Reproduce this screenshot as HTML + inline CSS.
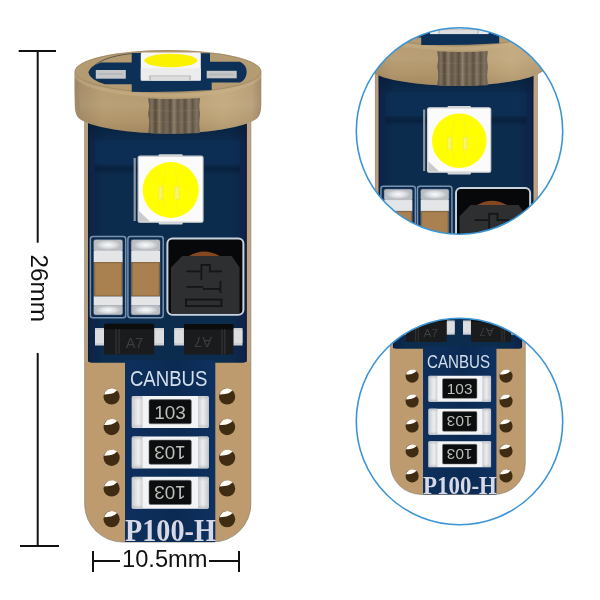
<!DOCTYPE html>
<html><head><meta charset="utf-8">
<style>
html,body{margin:0;padding:0;background:#fff;width:600px;height:600px;overflow:hidden}
svg{display:block;will-change:transform}
text{font-family:"Liberation Sans",sans-serif}
</style></head>
<body>
<svg width="600" height="600" viewBox="0 0 600 600">
<defs>
  <linearGradient id="ringG" x1="0" x2="1" y1="0" y2="0">
    <stop offset="0" stop-color="#a08866"/>
    <stop offset="0.15" stop-color="#b69a6e"/>
    <stop offset="0.5" stop-color="#b2976c"/>
    <stop offset="0.8" stop-color="#c2a87c"/>
    <stop offset="0.95" stop-color="#b89e76"/>
    <stop offset="1" stop-color="#a08868"/>
  </linearGradient>
  <linearGradient id="texG" x1="0" x2="1" y1="0" y2="0">
    <stop offset="0.000" stop-color="#5f5444"/>
    <stop offset="0.071" stop-color="#7f715c"/>
    <stop offset="0.143" stop-color="#554a3d"/>
    <stop offset="0.214" stop-color="#8a7b64"/>
    <stop offset="0.286" stop-color="#615546"/>
    <stop offset="0.357" stop-color="#786a57"/>
    <stop offset="0.429" stop-color="#5a4e42"/>
    <stop offset="0.500" stop-color="#8f806b"/>
    <stop offset="0.571" stop-color="#635647"/>
    <stop offset="0.643" stop-color="#7d6f5a"/>
    <stop offset="0.714" stop-color="#5c5043"/>
    <stop offset="0.786" stop-color="#887965"/>
    <stop offset="0.857" stop-color="#615546"/>
    <stop offset="0.929" stop-color="#807260"/>
    <stop offset="1.000" stop-color="#6a5d50"/>
  </linearGradient>
  <radialGradient id="holeG" cx="0.5" cy="0.55" r="0.55">
    <stop offset="0" stop-color="#5a3f1c"/>
    <stop offset="1" stop-color="#3a2710"/>
  </radialGradient>
  <linearGradient id="capV" x1="0" x2="0" y1="0" y2="1">
    <stop offset="0" stop-color="#9a9ea2" stop-opacity="0.5"/>
    <stop offset="0.2" stop-color="#ffffff" stop-opacity="0"/>
    <stop offset="0.8" stop-color="#ffffff" stop-opacity="0"/>
    <stop offset="1" stop-color="#9a9ea2" stop-opacity="0.5"/>
  </linearGradient>
  <linearGradient id="capEndL" x1="0" x2="1" y1="0" y2="0">
    <stop offset="0" stop-color="#c8cacc"/>
    <stop offset="0.6" stop-color="#eeeff0"/>
    <stop offset="1" stop-color="#cdd0d2"/>
  </linearGradient>
  <linearGradient id="capEndR" x1="1" x2="0" y1="0" y2="0">
    <stop offset="0" stop-color="#c4c7ca"/>
    <stop offset="0.55" stop-color="#eceef0"/>
    <stop offset="1" stop-color="#c9ccd0"/>
  </linearGradient>
  <linearGradient id="capTop" x1="0" x2="0" y1="0" y2="1">
    <stop offset="0" stop-color="#9ea3a8"/>
    <stop offset="0.5" stop-color="#e6e8ea"/>
    <stop offset="1" stop-color="#c9ccd0"/>
  </linearGradient>

  <linearGradient id="shadeG" x1="0" x2="0" y1="0" y2="1">
    <stop offset="0" stop-color="#061a33" stop-opacity="0.7"/>
    <stop offset="1" stop-color="#061a33" stop-opacity="0"/>
  </linearGradient>
  <linearGradient id="bandG" x1="0" x2="0" y1="0" y2="1">
    <stop offset="0" stop-color="#061a33" stop-opacity="0"/>
    <stop offset="0.5" stop-color="#061a33" stop-opacity="0.6"/>
    <stop offset="1" stop-color="#061a33" stop-opacity="0"/>
  </linearGradient>

  <radialGradient id="hiG" cx="0.5" cy="0.5" r="0.5">
    <stop offset="0" stop-color="#ffffff" stop-opacity="0.95"/>
    <stop offset="0.6" stop-color="#f0f2f4" stop-opacity="0.6"/>
    <stop offset="1" stop-color="#e0e2e4" stop-opacity="0"/>
  </radialGradient>

  <linearGradient id="blueH" x1="0" x2="1" y1="0" y2="0">
    <stop offset="0" stop-color="#0f234c"/>
    <stop offset="0.05" stop-color="#0b2748"/>
    <stop offset="0.1" stop-color="#0c2c4e"/>
    <stop offset="0.9" stop-color="#0c2c4e"/>
    <stop offset="0.95" stop-color="#0d2649"/>
    <stop offset="1" stop-color="#10224a"/>
  </linearGradient>
  <linearGradient id="blueCol" x1="0" x2="1" y1="0" y2="0">
    <stop offset="0" stop-color="#0e2f5c"/>
    <stop offset="0.35" stop-color="#0d2d58"/>
    <stop offset="0.55" stop-color="#0b2a52"/>
    <stop offset="1" stop-color="#0e3160"/>
  </linearGradient>

  <linearGradient id="ringV" x1="0" x2="0" y1="0" y2="1">
    <stop offset="0" stop-color="#ffffff" stop-opacity="0"/>
    <stop offset="0.55" stop-color="#ffffff" stop-opacity="0.06"/>
    <stop offset="0.8" stop-color="#5a4a30" stop-opacity="0.05"/>
    <stop offset="1" stop-color="#5a4a30" stop-opacity="0.2"/>
  </linearGradient>

  <g id="bulb">
    <!-- PCB outline / copper -->
    <path d="M84.7,110 H250.8 V504 A38,38 0 0 1 212.8,542 H122.7 A38,38 0 0 1 84.7,504 Z" fill="#be9b6e" stroke="#8e8473" stroke-width="0.8"/>
    <!-- blue upper -->
    <path d="M88,110 H246.8 V359 Q246.8,362.7 243,362.7 H91.7 Q88,362.7 88,359 Z" fill="url(#blueH)"/>
    <rect x="85.2" y="110" width="2.8" height="252" fill="#b9a081"/>
    <rect x="246.8" y="110" width="3.6" height="252" fill="#bea283"/>
    <rect x="88" y="110" width="1.3" height="252" fill="#0a1630" opacity="0.8"/>
    <rect x="245.5" y="110" width="1.3" height="252" fill="#0a1630" opacity="0.8"/>
    <!-- blue center column -->
    <rect x="125" y="360" width="90.3" height="182" fill="url(#blueCol)"/>
    <!-- subtle band -->
    <rect x="95" y="140" width="145" height="25" fill="#103560" opacity="0.35"/>
    <rect x="95" y="163" width="145" height="12" fill="url(#bandG)"/>
    <rect x="88" y="118" width="158.8" height="26" fill="url(#shadeG)"/>

    <!-- big LED -->
    <rect x="133.6" y="158" width="2.2" height="63" fill="#8d97a2"/>
    <rect x="158.7" y="154.3" width="24" height="4" rx="1" fill="#d4d6d8"/>
    <rect x="158.7" y="220.5" width="24" height="4" rx="1" fill="#d4d6d8"/>
    <rect x="138.2" y="156.2" width="64.8" height="66" rx="2" fill="#fbfbfb" stroke="#cfd1d3" stroke-width="1.2"/>
    <path d="M139,211 L150,221.5 H139 Z" fill="#c8cacc"/>
    <circle cx="170.7" cy="190" r="28" fill="#ffff00"/>
    <rect x="158.8" y="186.3" width="4" height="13" fill="#f4f290" stroke="#e6dc60" stroke-width="0.5" opacity="0.7"/>
    <path d="M166,170 Q160,190 166,210 M175,170 Q181,190 175,210" stroke="#eee060" stroke-width="0.6" fill="none" opacity="0.6"/>
    <rect x="174.8" y="186.3" width="4.5" height="13" fill="#f4f290" stroke="#e6dc60" stroke-width="0.5" opacity="0.7"/>

    <!-- small caps (left two) -->
    <g id="capA">
      <rect x="90.4" y="236.6" width="35.3" height="81.2" rx="2.5" fill="#0b2a4c" stroke="#7893b2" stroke-width="1.5"/>
      <rect x="93.2" y="239.2" width="29.8" height="76" rx="2" fill="#3d5676"/>
      <rect x="93.8" y="239.8" width="28.7" height="11.5" rx="2" fill="#b9bdc2"/>
      <ellipse cx="108.2" cy="245" rx="13" ry="5" fill="url(#hiG)"/>
      <rect x="93.8" y="250.8" width="28.7" height="11.2" fill="#e3e5e7"/>
      <rect x="94" y="262" width="28.3" height="34.5" fill="#8c6a40"/>
      <rect x="95.2" y="263.2" width="25.9" height="32.1" fill="#a98150"/>
      <rect x="93.8" y="296.5" width="28.7" height="9" fill="#e3e5e7"/>
      <rect x="93.8" y="305.3" width="28.7" height="9.5" rx="2" fill="#b9bdc2"/>
      <ellipse cx="108.2" cy="310" rx="13" ry="4.5" fill="url(#hiG)"/>
    </g>
    <use href="#capA" transform="translate(37.5,0)"/>

    <!-- inductor -->
    <rect x="167.4" y="238.4" width="76" height="76.3" rx="5" fill="#070809" stroke="#c9d3de" stroke-width="2"/>
    <path d="M182.3,256 L231.7,256 L239.5,267.5 L239.5,313.5 L171,313.5 L171,267.5 Z" fill="#2d2f31"/>
    <path d="M189,256 Q204,247 219.7,256 Z" fill="#83481f"/>
    <g fill="#141516">
      <rect x="186.3" y="270.5" width="14" height="1.8"/>
      <rect x="200.5" y="264" width="1.8" height="16"/>
      <rect x="202" y="264" width="8" height="1.8"/>
      <rect x="209" y="264" width="1.8" height="8"/>
      <rect x="209" y="270.5" width="13" height="1.8"/>
      <rect x="186.3" y="286" width="17" height="1.8"/>
      <rect x="203" y="288" width="18" height="1.8"/>
      <rect x="219.5" y="281" width="1.8" height="12"/>
      <rect x="185" y="298.7" width="37.3" height="1.8"/>
      <rect x="185" y="298.7" width="1.8" height="8.3"/>
      <rect x="220.5" y="298.7" width="1.8" height="8.3"/>
      <rect x="185" y="305.2" width="37.3" height="1.8"/>
    </g>

    <!-- diodes -->
    <g>
      <rect x="95" y="328" width="69" height="17.5" fill="#cdd0d3"/>
      <rect x="95" y="330" width="9" height="13" fill="#e2e4e6" opacity="0.7"/>
      <rect x="155" y="330" width="9" height="13" fill="#e2e4e6" opacity="0.7"/>
      <rect x="104" y="323.7" width="50.2" height="30.8" rx="2" fill="#1a1b1c"/>
      <rect x="104" y="323.7" width="50.2" height="5.5" rx="1.5" fill="#0c0c0d"/>
      <rect x="115.6" y="329" width="0.9" height="25" fill="#3c3e40"/>
      <rect x="118.6" y="329" width="0.9" height="25" fill="#3c3e40"/>
      <text x="134.5" y="348" font-size="14.5" fill="#3c3e40" text-anchor="middle">A7</text>
    </g>
    <g>
      <rect x="174.2" y="328" width="68.3" height="17.5" fill="#cdd0d3"/>
      <rect x="174.2" y="330" width="9" height="13" fill="#e2e4e6" opacity="0.7"/>
      <rect x="233.5" y="330" width="9" height="13" fill="#e2e4e6" opacity="0.7"/>
      <rect x="184" y="324" width="49.5" height="30.5" rx="2" fill="#1a1b1c"/>
      <rect x="184" y="324" width="49.5" height="5.5" rx="1.5" fill="#0c0c0d"/>
      <rect x="221.6" y="329" width="0.9" height="25" fill="#3c3e40"/>
      <rect x="224.4" y="329" width="0.9" height="25" fill="#3c3e40"/>
      <text x="203" y="348" font-size="14.5" fill="#3c3e40" text-anchor="middle" transform="rotate(180 203 342.5)">A7</text>
    </g>

    <!-- CANBUS -->
    <text x="129.9" y="386.1" font-size="21.6" fill="#d4dfeb" textLength="77.6" lengthAdjust="spacingAndGlyphs">CANBUS</text>

    <!-- resistors -->
    <g id="resA">
      <rect x="131.7" y="396" width="77" height="32" rx="1.5" fill="#f3f4f5"/>
      <rect x="132" y="396.2" width="10.6" height="31.4" rx="1" fill="url(#capEndL)"/>
      <rect x="132" y="396.2" width="10.6" height="31.4" rx="1" fill="url(#capV)"/>
      <rect x="198" y="396.2" width="10.6" height="31.4" rx="1" fill="url(#capEndR)"/>
      <rect x="198" y="396.2" width="10.6" height="31.4" rx="1" fill="url(#capV)"/>
      <rect x="149" y="399.6" width="42.3" height="24.2" rx="1.5" fill="#0c0d0e" stroke="#6a6c6e" stroke-width="0.6"/>
    </g>
    <use href="#resA" transform="translate(0,40.5)"/>
    <use href="#resA" transform="translate(0,80.7)"/>
    <g fill="#bdbeb8" font-size="19" text-anchor="middle" style="font-family:'Liberation Mono',monospace">
      <text x="170" y="418.8">103</text>
      <text x="170" y="459.3" transform="rotate(180 170 452.5)">103</text>
      <text x="170" y="499.5" transform="rotate(180 170 492.7)">103</text>
    </g>

    <!-- holes -->
    <g id="holeA">
      <circle cx="111.6" cy="396.4" r="8.1" fill="#3f2c13"/>
      <path d="M104.1,394.4 A8,8 0 0 1 117.1,390.2 Q114.5,393 111.1,393.7 Q107,394.4 104.1,394.4 Z" fill="#fffdf6"/>
    </g>
    <use href="#holeA" transform="translate(115.5,0)"/>
    <use href="#holeA" transform="translate(0,30.7)"/>
    <use href="#holeA" transform="translate(115.5,30.7)"/>
    <use href="#holeA" transform="translate(0,61.4)"/>
    <use href="#holeA" transform="translate(115.5,61.4)"/>
    <use href="#holeA" transform="translate(0,92.1)"/>
    <use href="#holeA" transform="translate(115.5,92.1)"/>
    <use href="#holeA" transform="translate(0,122.8)"/>
    <use href="#holeA" transform="translate(115.5,122.8)"/>

    <!-- P100-H -->
    <text x="125" y="541.3" font-size="31" font-weight="bold" fill="#d8d9e6" textLength="90.8" lengthAdjust="spacingAndGlyphs" style="font-family:'Liberation Serif',serif">P100-H</text>

    <!-- ring side -->
    <path d="M74.7,71.5 V105 Q74.7,116 80,119.2 A93.3,21.5 0 0 0 256,119.2 Q261.3,116 261.3,105 V71.5 Z" fill="url(#ringG)"/>
    <path d="M74.7,71.5 V105 Q74.7,116 80,119.2 A93.3,21.5 0 0 0 256,119.2 Q261.3,116 261.3,105 V71.5 Z" fill="url(#ringV)"/>
    <path d="M74.7,71.5 Q73.5,95 76,108 L80,112 Q78,95 79,71.5 Z" fill="#9a8460" opacity="0.5"/>
            <!-- textured front -->
    <path d="M148.2,98.2 Q174,100 200,98 Q198.5,106 200,114 Q198.5,124 200,133 Q174,134.5 148.2,133 Q150,123 148.2,114 Q150,106 148.2,98.2 Z" fill="url(#texG)"/>
    <path d="M149,110 Q174,112 199,110" stroke="#a39378" stroke-width="1.5" fill="none" opacity="0.15"/>
    <path d="M149,121 Q174,123 199,121" stroke="#a39378" stroke-width="1.5" fill="none" opacity="0.12"/>
    <path d="M76,74 A92,21.5 0 0 0 260,74" stroke="#c9b38c" stroke-width="3.5" fill="none" opacity="0.45"/>
    <!-- ring top -->
    <ellipse cx="168" cy="71.5" rx="93.3" ry="21.5" fill="#b49b72"/>
    <ellipse cx="168" cy="71.5" rx="92.8" ry="21" fill="none" stroke="#8f7b5e" stroke-width="0.9" opacity="0.5"/>
    <!-- blue cross on top -->
    <path d="M131.7,53 L210,53.3 L210,61.7 L240,61.7 Q247,65 246.7,72.5 Q246,80 240,82.5 L211.7,82.5 L211.7,90 Q170,92.5 131.7,91.7 L131.7,84.2 L105,84.2 Q90,80 88.3,72.5 Q90,66 101,62.5 L131.7,62.5 Z" fill="#0d3057"/>
    <path d="M89,71.5 Q98,57 131.7,53.6" stroke="#2a3038" stroke-width="0.9" fill="none" opacity="0.7"/>
    <rect x="95.8" y="70" width="30" height="8.7" fill="#c6c7c8"/>
    <rect x="98" y="73" width="25" height="2" fill="#aeb0b2" opacity="0.6"/>
    <rect x="206.7" y="70.8" width="30" height="7.5" fill="#c6c7c8"/>
    <rect x="209" y="73.5" width="25" height="2" fill="#aeb0b2" opacity="0.6"/>
    <!-- small LED -->
    <rect x="140.8" y="52.6" width="60" height="28" rx="1.5" fill="#f6f6f6"/>
    <rect x="140.8" y="68.3" width="60" height="12.3" fill="#ececec"/>
    <rect x="149" y="75.3" width="42" height="5.3" rx="1" fill="#c4c4c4"/>
    <rect x="151" y="76.5" width="38" height="4" fill="#dedede"/>
    <ellipse cx="170.8" cy="60.5" rx="26.5" ry="6.7" fill="#faf200"/>
  </g>

  <clipPath id="clipTop"><circle cx="459.5" cy="131" r="103"/></clipPath>
  <clipPath id="clipBot"><circle cx="459.5" cy="421.5" r="103"/></clipPath>
</defs>

<rect width="600" height="600" fill="#fff"/>
<use href="#bulb"/>

<g clip-path="url(#clipTop)">
  <use href="#bulb" transform="translate(292.8,-44.5) scale(0.975)"/>
</g>
<circle cx="459.5" cy="131" r="103.2" fill="none" stroke="#3b94d4" stroke-width="1.6"/>

<g clip-path="url(#clipBot)">
  <use href="#bulb" transform="translate(321.4,53.8) scale(0.813)"/>
</g>
<circle cx="459.5" cy="421.5" r="103.2" fill="none" stroke="#3b94d4" stroke-width="1.6"/>

<!-- left dimension -->
<g stroke="#111" stroke-width="2" fill="none">
  <line x1="18.7" y1="51" x2="56" y2="51"/>
  <line x1="37.7" y1="51" x2="37.7" y2="242.7"/>
  <line x1="37.7" y1="353" x2="37.7" y2="546"/>
  <line x1="20" y1="546" x2="59" y2="546"/>
  <line x1="93" y1="551" x2="93" y2="572"/>
  <line x1="93" y1="561" x2="120" y2="561"/>
  <line x1="209" y1="561" x2="239" y2="561"/>
  <line x1="239" y1="551" x2="239" y2="572"/>
</g>
<text x="0" y="0" font-size="24.5" fill="#111" transform="translate(30.5,254.5) rotate(90)" textLength="67.5" lengthAdjust="spacingAndGlyphs">26mm</text>
<text x="122" y="566.8" font-size="23" fill="#111" textLength="85.5" lengthAdjust="spacingAndGlyphs">10.5mm</text>
</svg>
</body></html>
